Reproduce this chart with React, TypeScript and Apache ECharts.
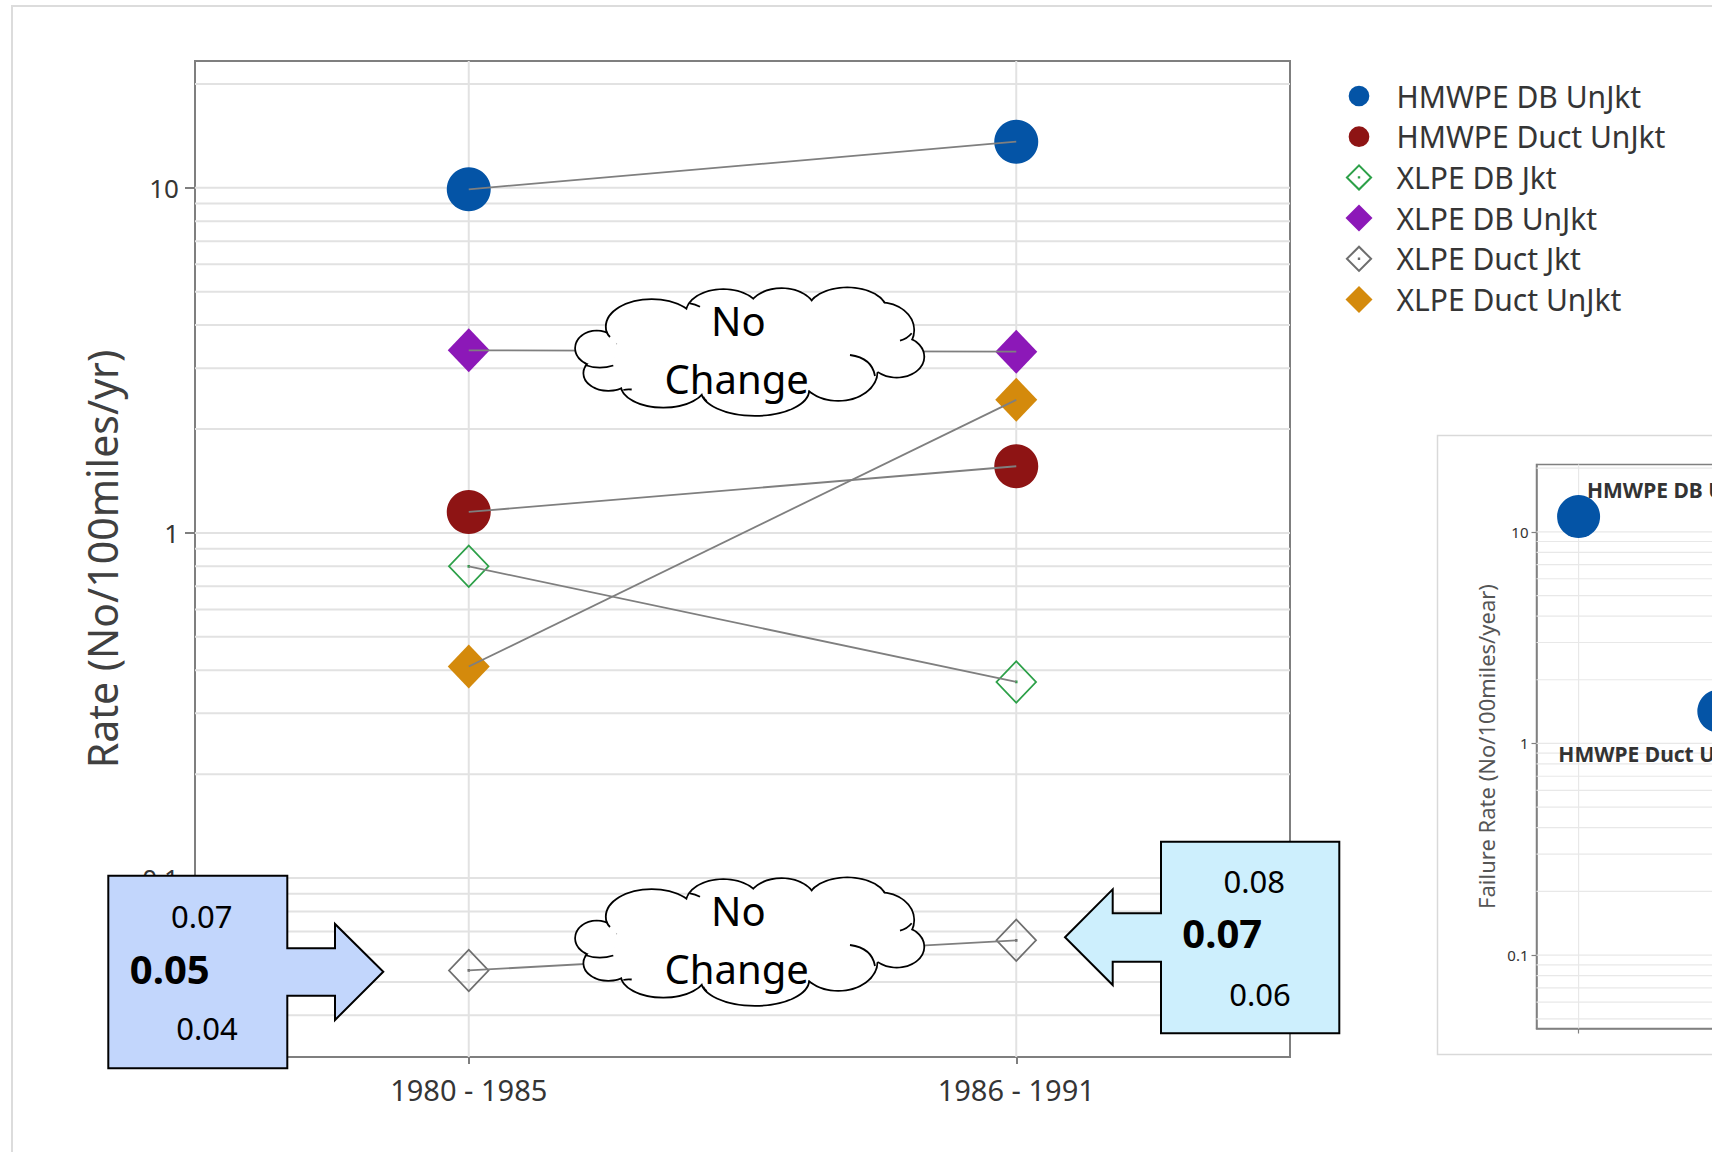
import React, { useEffect, useRef } from 'react';
import * as echarts from 'echarts';

// ---------- data ----------
const periods = ['1980 - 1985', '1986 - 1991'];
const seriesNames = [
  'HMWPE DB UnJkt',
  'HMWPE Duct UnJkt',
  'XLPE DB Jkt',
  'XLPE DB UnJkt',
  'XLPE Duct Jkt',
  'XLPE Duct UnJkt',
];
const hmwpeDbUnJkt = [9.9, 13.6];
const hmwpeDuctUnJkt = [1.15, 1.56];
const xlpeDbJkt = [0.8, 0.37];
const xlpeDbUnJkt = [3.38, 3.35];
const xlpeDuctJkt = [0.054, 0.066];
const xlpeDuctUnJkt = [0.41, 2.43];

const rateTicks = [0.1, 1, 10];
const mainGridRates = [0.04, 0.05, 0.06, 0.07, 0.08, 0.09, 0.1, 0.2, 0.3, 0.4, 0.5, 0.6, 0.7, 0.8, 0.9, 1, 2, 3, 4, 5, 6, 7, 8, 9, 10, 20];
const insetGridRates = [0.05, 0.06, 0.07, 0.08, 0.09, 0.1, 0.2, 0.3, 0.4, 0.5, 0.6, 0.7, 0.8, 0.9, 1, 2, 3, 4, 5, 6, 7, 8, 9, 10, 20];

const insetPositions = [1, 2];
const insetRates = [11.8, 1.42];
const insetLabels = ['HMWPE DB UnJkt', 'HMWPE Duct UnJkt'];
const insetTickPositions = [1, 2, 3, 4];

const leftBoxValues = ['0.07', '0.05', '0.04'];
const rightBoxValues = ['0.08', '0.07', '0.06'];
const cloudWords = ['No', 'Change'];

// ---------- styles ----------
const FONT = '"Noto Sans", "DejaVu Sans", sans-serif';
const AXIS_GRAY = '#7f7f7f';
const GRID_GRAY = '#e2e2e2';
const TEXT_GRAY = '#353535';

const OPEN_DIAMOND =
  'path://M50 0L100 50L50 100L0 50Z M50 5.66L5.66 50L50 94.34L94.34 50Z M47 47L53 47L53 53L47 53Z';
const LEGEND_CIRCLE =
  'path://M0 0L0.01 0L0 0.01Z M27 27L26.99 27L27 26.99Z M3.15 13.5A10.35 10.35 0 1 1 23.85 13.5A10.35 10.35 0 1 1 3.15 13.5Z';
const LEGEND_DIAMOND = 'path://M13.5 0L27 13.5L13.5 27L0 13.5Z';
const LEGEND_OPEN_DIAMOND =
  'path://M13.5 0L27 13.5L13.5 27L0 13.5Z M13.5 2.83L2.83 13.5L13.5 24.17L24.17 13.5Z M12.3 12.3L14.7 12.3L14.7 14.7L12.3 14.7Z';

const markerStyles = [
  { symbol: 'circle', size: 44, color: '#0454a6', legend: LEGEND_CIRCLE },
  { symbol: 'circle', size: 44, color: '#8e1414', legend: LEGEND_CIRCLE },
  { symbol: OPEN_DIAMOND, size: [42, 44], color: '#2ca048', legend: LEGEND_OPEN_DIAMOND },
  { symbol: 'diamond', size: [42, 44], color: '#8c18b8', legend: LEGEND_DIAMOND },
  { symbol: OPEN_DIAMOND, size: [42, 44], color: '#6e6e6e', legend: LEGEND_OPEN_DIAMOND },
  { symbol: 'diamond', size: [42, 44], color: '#d48a0c', legend: LEGEND_DIAMOND },
];

const fmtRate = (v: number) => String(Number(Number(v).toPrecision(2)));

// cloud geometry (local coordinates)
const LOBES = [
  [36.7, 78.3, 20.7, 16.7],
  [48.3, 103.3, 24, 16.7],
  [103.3, 115, 41.7, 21.7],
  [195, 120, 53.3, 25],
  [278.3, 101.7, 38.3, 28.3],
  [336.7, 86.7, 26.7, 20],
  [320, 60, 33.3, 26.7],
  [287.3, 40, 38.3, 21.7],
  [221.7, 41.7, 33.3, 22.7],
  [163.3, 43.3, 36.7, 23.3],
  [91.7, 56.7, 45, 26.7],
];
const FILLER = [193.3, 83.3, 140, 40];
const HOOKS = [
  [25, 95, 39, 100, 53.3, 95.5],
  [290, 85, 312, 88, 315, 106],
  [340, 70.7, 347, 69, 351.7, 63.3],
  [46.7, 61.7, 47, 64, 50, 67],
  [63.3, 120, 67, 119, 71.7, 119.5],
  [130, 33.3, 135, 34, 140, 36.7],
  [143.3, 126.7, 144, 129, 146.7, 131],
];

function cloud(ox: number, oy: number) {
  const children: any[] = [];
  LOBES.forEach(([cx, cy, rx, ry]) =>
    children.push({ type: 'ellipse', silent: true, z: 100, shape: { cx, cy, rx, ry }, style: { fill: '#fff', stroke: '#000', lineWidth: 3.6 } })
  );
  [...LOBES, FILLER].forEach(([cx, cy, rx, ry]) =>
    children.push({ type: 'ellipse', silent: true, z: 101, shape: { cx, cy, rx, ry }, style: { fill: '#fff' } })
  );
  HOOKS.forEach(([x1, y1, cpx1, cpy1, x2, y2]) =>
    children.push({ type: 'bezierCurve', silent: true, z: 102, shape: { x1, y1, cpx1, cpy1, x2, y2 }, style: { stroke: '#000', lineWidth: 1.8, fill: 'none' } })
  );
  children.push({ type: 'text', silent: true, z: 103, x: 178.3, y: 50, style: { text: cloudWords[0], fontSize: 40, fontFamily: FONT, fill: '#000', align: 'center', verticalAlign: 'middle' } });
  children.push({ type: 'text', silent: true, z: 103, x: 176.7, y: 108.3, style: { text: cloudWords[1], fontSize: 40, fontFamily: FONT, fill: '#000', align: 'center', verticalAlign: 'middle' } });
  return { type: 'group', x: ox, y: oy, z: 100, children };
}

function boxText(text: string, x: number, y: number, size: number, bold = false) {
  return {
    type: 'text', silent: true, z: 101, x, y,
    style: { text, fontSize: size, fontWeight: bold ? 'bold' : 'normal', fontFamily: FONT, fill: '#000', align: 'center', verticalAlign: 'middle' },
  };
}

function hLineSeries(values: number[], xVal: number, axisIdx: number, color: string, width: number) {
  return {
    type: 'custom', silent: true, z: 1,
    xAxisIndex: axisIdx, yAxisIndex: axisIdx,
    data: values.map((v) => [xVal, v]),
    encode: { x: 0, y: 1 },
    renderItem: (params: any, api: any) => {
      const cs = params.coordSys;
      const y = api.coord([api.value(0), api.value(1)])[1];
      return { type: 'line', shape: { x1: cs.x, y1: y, x2: cs.x + cs.width, y2: y }, style: { stroke: color, lineWidth: width } };
    },
  };
}

function vLineSeries(positions: number[], axisIdx: number, color: string, width: number) {
  return {
    type: 'custom', silent: true, z: 1,
    xAxisIndex: axisIdx, yAxisIndex: axisIdx,
    data: positions.map((p) => [p, 1]),
    encode: { x: 0, y: 1 },
    renderItem: (params: any, api: any) => {
      const cs = params.coordSys;
      const x = api.coord([api.value(0), 1])[0];
      return { type: 'line', shape: { x1: x, y1: cs.y, x2: x, y2: cs.y + cs.height }, style: { stroke: color, lineWidth: width } };
    },
  };
}

function buildOption() {
  const mainValues = [hmwpeDbUnJkt, hmwpeDuctUnJkt, xlpeDbJkt, xlpeDbUnJkt, xlpeDuctJkt, xlpeDuctUnJkt];
  const series: any[] = [
    hLineSeries(mainGridRates, 0, 0, GRID_GRAY, 2),
    vLineSeries(periods.map((_, i) => i), 0, GRID_GRAY, 2),
    hLineSeries(insetGridRates, 1, 1, '#e8e8e8', 1.2),
    vLineSeries(insetTickPositions, 1, '#e8e8e8', 1.2),
  ];
  seriesNames.forEach((name, i) => {
    const st = markerStyles[i];
    series.push({
      type: 'scatter', name, data: mainValues[i], xAxisIndex: 0, yAxisIndex: 0,
      symbol: st.symbol, symbolSize: st.size, itemStyle: { color: st.color, opacity: 1 }, z: 2, silent: true,
    });
    series.push({
      type: 'line', name: name + ' link', data: mainValues[i], xAxisIndex: 0, yAxisIndex: 0,
      symbol: 'none', showSymbol: false, lineStyle: { color: AXIS_GRAY, width: 1.8 }, z: 3, silent: true,
    });
  });
  const insetLabelOffsets = [[8.4, -26.7], [-160.5, 43]];
  series.push({
    type: 'scatter', name: 'inset points', xAxisIndex: 1, yAxisIndex: 1, z: 2, silent: true, clip: false,
    symbol: 'circle', symbolSize: 43, itemStyle: { color: '#0454a6', opacity: 1 },
    data: insetPositions.map((x, i) => ({
      value: [x, insetRates[i]],
      label: {
        show: true, position: 'inside', formatter: insetLabels[i], align: 'left', verticalAlign: 'middle',
        offset: insetLabelOffsets[i], fontSize: 21, fontWeight: 'bold', color: '#333', fontFamily: FONT,
      },
    })),
  });

  const leftPoly = [[108.3, 875.7], [287.3, 875.7], [287.3, 948.3], [335, 948.3], [335, 924], [383.3, 971.7], [335, 1020], [335, 995.7], [287.3, 995.7], [287.3, 1068.3], [108.3, 1068.3]];
  const rightPoly = [[1161, 841.7], [1339.3, 841.7], [1339.3, 1033.3], [1161, 1033.3], [1161, 961.7], [1112.7, 961.7], [1112.7, 985], [1065, 937.3], [1112.7, 889.3], [1112.7, 913.3], [1161, 913.3]];

  return {
    animation: false,
    backgroundColor: '#ffffff',
    textStyle: { fontFamily: FONT },
    grid: [
      { left: 195, top: 61, width: 1095, height: 996, show: true, borderColor: AXIS_GRAY, borderWidth: 2, backgroundColor: 'transparent', outerBoundsMode: 'none', containLabel: false },
      { left: 1536.5, top: 464.5, width: 561, height: 564, show: true, borderColor: '#808080', borderWidth: 1.5, backgroundColor: 'transparent', outerBoundsMode: 'none', containLabel: false },
    ],
    legend: {
      data: seriesNames.map((n, i) => ({ name: n, icon: markerStyles[i].legend })),
      orient: 'vertical', left: 1340.5, top: 76, itemWidth: 65, itemHeight: 27, itemGap: 10.7,
      symbolKeepAspect: true, selectedMode: false,
      textStyle: { fontSize: 30, color: TEXT_GRAY, fontFamily: FONT, lineHeight: 30 },
    },
    xAxis: [
      {
        type: 'category', data: periods, gridIndex: 0, boundaryGap: true,
        axisLine: { show: true, lineStyle: { color: AXIS_GRAY, width: 2 } },
        axisTick: { show: true, alignWithLabel: true, length: 7, lineStyle: { color: AXIS_GRAY, width: 2 } },
        axisLabel: { fontSize: 29, color: TEXT_GRAY, fontFamily: FONT, margin: 18 },
        splitLine: { show: false },
      },
      {
        type: 'value', gridIndex: 1, min: 0.7, max: 4.7,
        axisLine: { show: true, lineStyle: { color: '#808080', width: 1.5 } },
        axisTick: { show: true, length: 5, customValues: insetTickPositions, lineStyle: { color: '#808080', width: 1.2 } },
        axisLabel: { show: false },
        splitLine: { show: false },
      },
    ],
    yAxis: [
      {
        type: 'log', logBase: 10, gridIndex: 0, min: 0.0303, max: 23.3,
        name: 'Rate (No/100miles/yr)', nameLocation: 'middle', nameGap: 73, nameRotate: 90,
        nameTextStyle: { fontSize: 41, color: '#404040', fontFamily: FONT },
        axisLine: { show: true, lineStyle: { color: AXIS_GRAY, width: 2 } },
        axisTick: { show: true, length: 10, customValues: rateTicks, lineStyle: { color: AXIS_GRAY, width: 2 } },
        axisLabel: { fontSize: 26, color: TEXT_GRAY, fontFamily: FONT, margin: 16, customValues: rateTicks, formatter: fmtRate },
        splitLine: { show: false },
        minorTick: { show: false },
      },
      {
        type: 'log', logBase: 10, gridIndex: 1, min: 0.045, max: 20.8,
        name: 'Failure Rate (No/100miles/year)', nameLocation: 'middle', nameGap: 40, nameRotate: 90,
        nameTextStyle: { fontSize: 22, color: '#555', fontFamily: FONT },
        axisLine: { show: true, lineStyle: { color: '#808080', width: 1.5 } },
        axisTick: { show: true, length: 5, customValues: rateTicks, lineStyle: { color: '#808080', width: 1.2 } },
        axisLabel: { fontSize: 15, color: '#333', fontFamily: FONT, margin: 8, customValues: rateTicks, formatter: fmtRate },
        splitLine: { show: false },
      },
    ],
    series,
    graphic: {
      elements: [
        { type: 'rect', silent: true, z: 0, shape: { x: 12, y: 6, width: 1800, height: 1300 }, style: { fill: 'none', stroke: '#dcdcdc', lineWidth: 2 } },
        { type: 'rect', silent: true, z: 0, shape: { x: 1437.5, y: 435.5, width: 400, height: 619 }, style: { fill: 'none', stroke: '#d9d9d9', lineWidth: 1.5 } },
        cloud(560, 270),
        cloud(560, 860),
        { type: 'polygon', silent: true, z: 100, shape: { points: leftPoly }, style: { fill: '#c2d6fc', stroke: '#000', lineWidth: 2 } },
        boxText(leftBoxValues[0], 201.7, 915.8, 31),
        boxText(leftBoxValues[1], 169.8, 968.3, 40, true),
        boxText(leftBoxValues[2], 207, 1028.3, 31),
        { type: 'polygon', silent: true, z: 100, shape: { points: rightPoly }, style: { fill: '#cdeffd', stroke: '#000', lineWidth: 2 } },
        boxText(rightBoxValues[0], 1254.2, 880.8, 31),
        boxText(rightBoxValues[1], 1222.2, 932.5, 40, true),
        boxText(rightBoxValues[2], 1260, 994.2, 31),
      ],
    },
  };
}

export default function App() {
  const ref = useRef<HTMLDivElement>(null);
  useEffect(() => {
    if (!ref.current) return;
    const chart = echarts.init(ref.current, null, { renderer: 'svg' });
    chart.setOption(buildOption() as any);
    return () => chart.dispose();
  }, []);
  return (
    <div
      ref={ref}
      style={{ position: 'fixed', left: 0, top: 0, width: 1712, height: 1152, background: '#fff' }}
    />
  );
}
